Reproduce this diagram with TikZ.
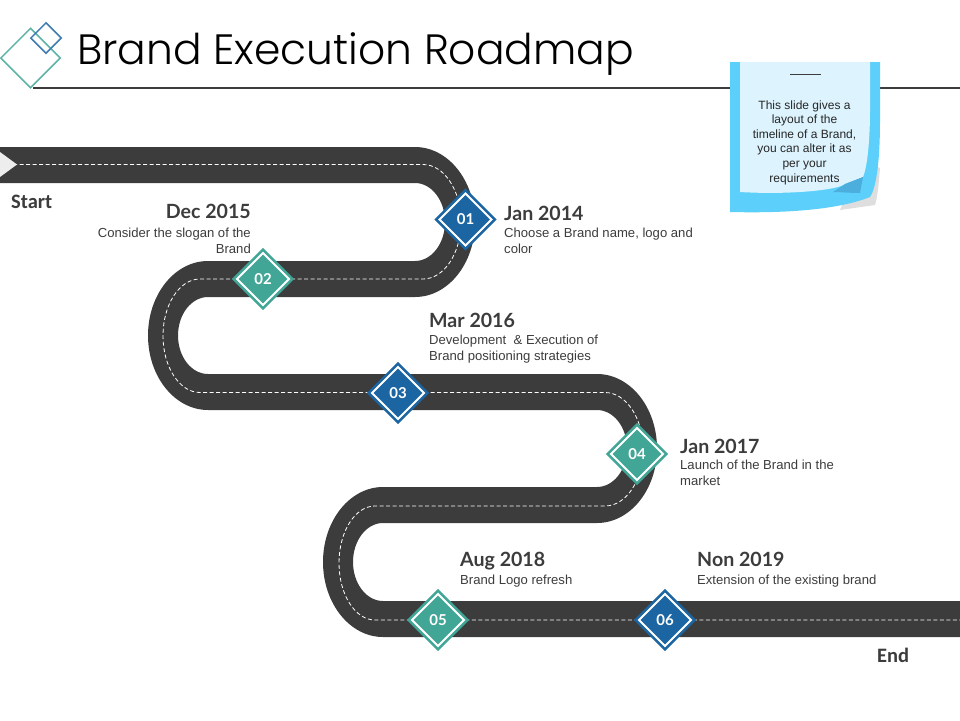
\documentclass[tikz,border=0pt]{standalone}
\usepackage{fontspec}
\setmainfont{Liberation Sans}
\newfontfamily\titlefont{Poppins}[UprightFont=* Light]
\newfontfamily\datefont{Lato}
\newfontfamily\endfont{Carlito}
\usetikzlibrary{positioning,shapes.geometric}
\definecolor{roadgray}{HTML}{3C3C3C}
\definecolor{stepblue}{HTML}{1C65A3}
\definecolor{stepteal}{HTML}{42A696}
\definecolor{notesky}{HTML}{5CCFFA}
\definecolor{notepale}{HTML}{DDF4FE}
\definecolor{notefold}{HTML}{4BAEDC}
\begin{document}
\begin{tikzpicture}[
  x=1pt, y=1pt,
  roadline/.style={draw=white, line width=0.8pt, dash pattern=on 4pt off 2.5pt},
  marker/.style  ={diamond, aspect=1, minimum width=53pt, minimum height=53pt, inner sep=0pt,
    line width=2.6pt, double=white, double distance=2pt, text=white,
    font=\datefont\bfseries\fontsize{15}{15}\selectfont},
  bluestep/.style={marker, draw=stepblue, fill=stepblue},
  tealstep/.style={marker, draw=stepteal, fill=stepteal},
  datelabel/.style={inner sep=0pt, text=roadgray, font=\datefont\bfseries\fontsize{19.6}{19.6}\selectfont},
  bodylabel/.style={inner sep=0pt, text=roadgray, font=\fontsize{13.1}{16}\selectfont},
  endlabel/.style ={inner sep=0pt, text=roadgray, font=\endfont\bfseries\fontsize{20.5}{20.5}\selectfont}
]
\useasboundingbox (0,0) rectangle (960,-720);

% title
\node[anchor=base west, inner sep=0pt, text=black, font=\titlefont\fontsize{42.4}{42.4}\selectfont] (title) at (77,-64) {Brand Execution Roadmap};
\coordinate (ruleA) at (33,-88);
\coordinate (ruleB) at (960,-88);
\draw[roadgray, line width=1.5pt] (ruleA) -- (ruleB);
\node[diamond, aspect=1, draw=stepteal!85!white, line width=1.5pt, minimum width=60pt, minimum height=60pt, inner sep=0pt] (logoA) at (30.5,-58) {};
\node[diamond, aspect=1, draw=stepblue!85!white, line width=1.5pt, minimum width=31pt, minimum height=31pt, inner sep=0pt] (logoB) at (46,-38) {};

% road
\fill[roadgray] (0,-147) -- (415,-147) arc[start angle=90,end angle=-90,x radius=60,y radius=75]
  -- (208,-297) arc[start angle=90,end angle=270,x radius=30,y radius=38.5]
  -- (597,-374) arc[start angle=90,end angle=-90,x radius=60,y radius=74.5]
  -- (383,-523) arc[start angle=90,end angle=270,x radius=30,y radius=39]
  -- (960,-601) -- (960,-637)
  -- (383,-637) arc[start angle=270,end angle=90,x radius=60,y radius=75]
  -- (597,-487) arc[start angle=-90,end angle=90,x radius=30,y radius=38.5]
  -- (208,-410) arc[start angle=270,end angle=90,x radius=60,y radius=74.5]
  -- (415,-261) arc[start angle=-90,end angle=90,x radius=30,y radius=39]
  -- (0,-183) -- cycle;
\coordinate (r0) at (0,-164.5);
\coordinate (r1) at (423,-164.5);
\coordinate (r2) at (200,-279);
\coordinate (r3) at (605,-392.5);
\coordinate (r4) at (375,-506);
\coordinate (r5) at (960,-620);
\draw[roadline] (r0) -- (r1) arc[start angle=90,end angle=-90,x radius=38,y radius=57.25] -- (r2)
    arc[start angle=90,end angle=270,x radius=37,y radius=56.75] -- (r3)
    arc[start angle=90,end angle=-90,x radius=38,y radius=56.75] -- (r4)
    arc[start angle=90,end angle=270,x radius=36,y radius=57] -- (r5);
\fill[white!93!black] (0,-152) -- (17,-164.5) -- (0,-177) -- cycle;

% steps
\node[bluestep] (s1) at (465.5,-219.5) {01};
\node[tealstep] (s2) at (263,-279) {02};
\node[bluestep] (s3) at (398,-393) {03};
\node[tealstep] (s4) at (637,-454) {04};
\node[tealstep] (s5) at (438,-620) {05};
\node[bluestep] (s6) at (665,-620) {06};

% labels
\node[endlabel, anchor=west] (start) at (11,-202) {Start};
\node[endlabel, anchor=west] (end) at (877,-655) {End};

\node[datelabel, anchor=base east] (d2) at (251,-218.5) {Dec 2015};
\node[bodylabel, align=right, below=9pt of d2.base east, anchor=north east] (b2) {Consider the slogan of the\\Brand};
\node[datelabel, anchor=base west] (d1) at (504,-220) {Jan 2014};
\node[bodylabel, align=left, below=8pt of d1.base west, anchor=north west] (b1) {Choose a Brand name, logo and\\color};
\node[datelabel, anchor=base west] (d3) at (429,-327) {Mar 2016};
\node[bodylabel, align=left, below=8pt of d3.base west, anchor=north west] (b3) {Development \ \& Execution of\\Brand positioning strategies};
\node[datelabel, anchor=base west] (d4) at (680,-453) {Jan 2017};
\node[bodylabel, align=left, below=7pt of d4.base west, anchor=north west] (b4) {Launch of the Brand in the\\market};
\node[datelabel, anchor=base west] (d5) at (460,-566) {Aug 2018};
\node[bodylabel, align=left, below=9pt of d5.base west, anchor=north west] (b5) {Brand Logo refresh};
\node[datelabel, anchor=base west] (d6) at (697,-566) {Non 2019};
\node[bodylabel, align=left, below=9pt of d6.base west, anchor=north west] (b6) {Extension of the existing brand};

% note
\fill[black!13] (860,-160) -- (880,-168) .. controls (879,-180) and (878,-195) .. (875,-205) -- (840,-210) -- cycle;
\fill[notesky] (730,-62) -- (880,-62) -- (880,-120) .. controls (880,-150) and (878,-185) .. (870,-197)
  .. controls (850,-205) and (810,-214) .. (730,-212) -- cycle;
\fill[notepale] (740,-62) -- (870,-62) -- (870,-110) .. controls (870,-135) and (868,-165) .. (863,-177)
  -- (845,-184) .. controls (838,-190) and (790,-195) .. (740,-192) -- cycle;
\fill[notefold] (863,-177) -- (860,-193) .. controls (850,-193) and (840,-192) .. (833,-192) -- (845,-184) -- cycle;
\coordinate (dashA) at (790,-74.5);
\coordinate (dashB) at (821,-74.5);
\draw[roadgray, line width=1.5pt] (dashA) -- (dashB);
\node[align=center, inner sep=0pt, text=black!85, font=\fontsize{12}{14.6}\selectfont] (note) at (804.5,-142.5)
  {This slide gives a\\layout of the\\timeline of a Brand,\\you can alter it as\\per your\\requirements};
\end{tikzpicture}
\end{document}
